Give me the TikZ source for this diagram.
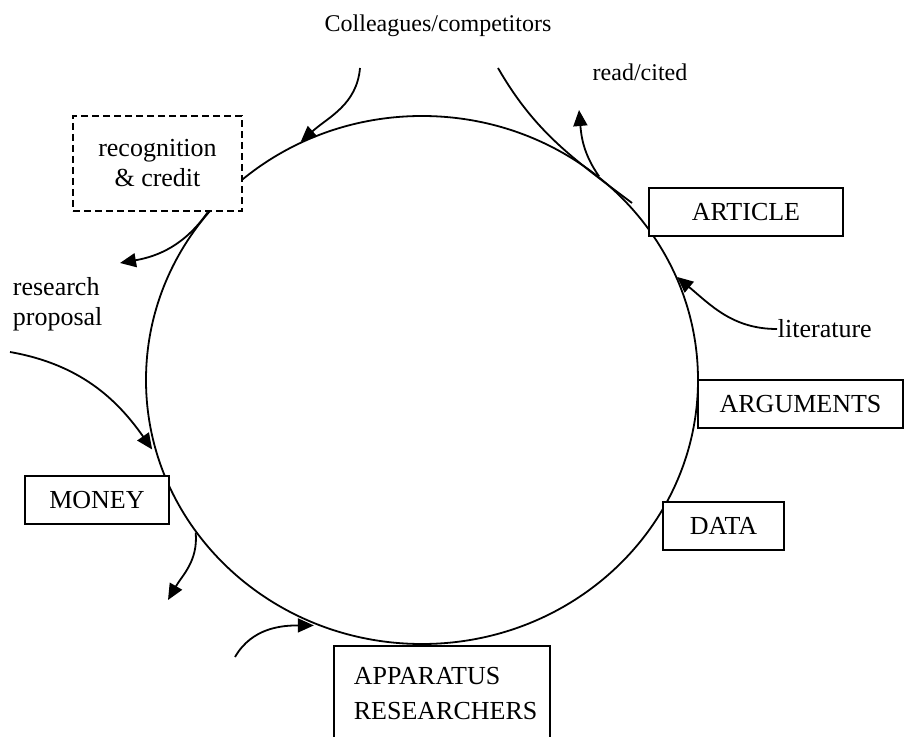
\documentclass[tikz,border=0pt]{standalone}
\usepackage{fontspec}
\setmainfont{Liberation Serif}
\usetikzlibrary{arrows.meta,shapes.geometric}

\begin{document}
\begin{tikzpicture}[x=0.5pt, y=-0.5pt, line width=0.9pt, >={Triangle[length=8pt,width=7pt]},
  every node/.style={font=\fontsize{13}{15}\selectfont},
  box/.style={draw, fill=white, inner sep=0pt, minimum height=24pt},
  serif/.style={font=\fontsize{12}{15}\selectfont}]
	\useasboundingbox (0,0) rectangle (904,737);
	\node[draw, ellipse, inner sep=0pt, minimum width=276pt, minimum height=264pt] (cycle) at (422,380) {};
	% boxes round the cycle
	\node[box, minimum width=84.5pt, minimum height=47.5pt, dash pattern=on 3.5pt off 2pt, align=center] (credit) at (157.5,163.5) {recognition\\ \& credit};
	\node[box, minimum width=97pt] (article) at (746,212) {ARTICLE};
	\node[box, minimum width=102.5pt] (arguments) at (800.5,404) {ARGUMENTS};
	\node[box, minimum width=60.5pt] (data) at (723.5,526) {DATA};
	\node[box, minimum width=72pt] (money) at (97,500) {MONEY};
	\node[box, anchor=north west, minimum height=48pt, align=left, text width=88pt, inner xsep=10pt, font=\fontsize{13}{17.5}\selectfont] (apparatus) at (333,645) {APPARATUS\\ RESEARCHERS};
	% labels
	\node[serif] (colleagues) at (438,26) {Colleagues/competitors};
	\node[serif] (readcited) at (640,72) {read/cited};
	\node[anchor=west, inner sep=0pt] (literature) at (777,329) {literature};
	\node[anchor=west, inner sep=0pt, align=left] (proposal) at (12,304) {research\\ proposal};
	\coordinate (colleagues in) at (360,68);
	\coordinate (colleagues out) at (498,68);
	\coordinate (colleagues end) at (632,203);
	\coordinate (cited) at (579,110);
	\coordinate (proposal in) at (10,352);
	\coordinate (credit out) at (120,263);
	\coordinate (money out) at (168,600);
	\coordinate (apparatus in) at (235,657);
	% flows in and out
	\draw[->] (colleagues in) to[out=-95, in=42] (cycle.117);
	\draw (colleagues out) to[out=-60, in=143] (colleagues end);
	\draw[->] (cycle.49) to[out=125, in=-85] (cited);
	\draw[->] (literature.west) to[out=180, in=-40] (cycle.22);
	\draw[->, shorten >=4pt] (proposal in) to[out=-10, in=125] (cycle.196);
	\draw[->] (cycle.142) to[out=-125, in=10] (credit out);
	\draw[->] (cycle.214) to[out=-85, in=60] (money out);
	\draw[->, shorten >=2pt] (apparatus in) to[out=60, in=180] (cycle.247);
\end{tikzpicture}
\end{document}
